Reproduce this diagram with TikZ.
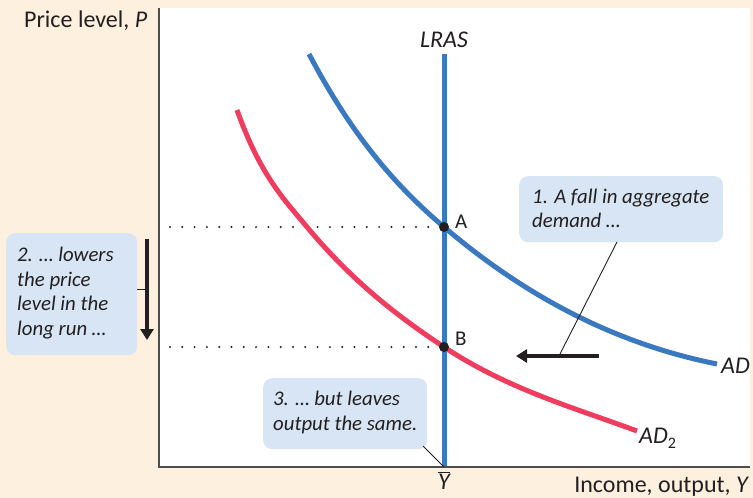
\documentclass[tikz,border=0pt]{standalone}
\usepackage{fontspec}
\setmainfont{Carlito}
\usetikzlibrary{arrows.meta}
\definecolor{cream}{HTML}{FEF0DE}
\definecolor{adblue}{HTML}{3A78C0}
\definecolor{adred}{HTML}{EE3D5E}
\definecolor{boxblue}{HTML}{D7E5F4}
\definecolor{ink}{HTML}{231F20}
\definecolor{axisgray}{HTML}{4D4D4D}
\begin{document}
\begin{tikzpicture}[x=1pt,y=-1pt,
  calloutbox/.style={fill=boxblue, rounded corners=9pt, inner sep=0pt, anchor=north west},
  callouttext/.style={align=left, text=ink, font=\fontsize{20.8}{24.6}\selectfont\itshape, inner sep=0pt, anchor=west},
  curveline/.style={line width=5pt},
  leader/.style={draw=ink, line width=0.9pt},
  bigarrow/.style={draw=ink, line width=4.6pt, -{Triangle[length=11pt,width=13pt]}},
  dotline/.style={draw=ink, line width=2.2pt, line cap=round, dash pattern=on 0pt off 12.3pt},
  axislab/.style={text=ink, font=\fontsize{24}{26}\selectfont, inner sep=0pt},
  ptlab/.style={text=ink, font=\fontsize{21}{24}\selectfont, inner sep=0pt, anchor=base west},
  pointdot/.style={fill=ink}]
\useasboundingbox (0,0) rectangle (753,498);
\fill[cream] (0,0) rectangle (753,498);
\fill[white] (159,8) rectangle (750,467);

% key coordinates
\coordinate (A) at (444,227);
\coordinate (B) at (444,347);
\coordinate (ybar) at (444,467);
\coordinate (lrasTop) at (444,54);
\coordinate (origin) at (159,467);
\coordinate (yTop) at (159,8);
\coordinate (xEnd) at (750,467);
\coordinate (adTop) at (309,54);
\coordinate (adEnd) at (717,364);
\coordinate (adtTop) at (237,110);
\coordinate (adtMid) at (307,227);
\coordinate (adtEnd) at (637,431);

% dotted guides
\coordinate (dA) at (170,227);
\coordinate (dB) at (170,347);
\draw[dotline] (dA) -- ([xshift=-6pt]A);
\draw[dotline] (dB) -- ([xshift=-6pt]B);

% curves
\draw[adred, curveline] (adtTop) .. controls (260.3,175.3) and (283.7,199) .. (adtMid)
  .. controls (352.7,281.8) and (398.3,316.8) .. (B)
  .. controls (508.3,389.4) and (572.7,407.2) .. (adtEnd);
\draw[adblue, curveline] (adTop) .. controls (354,139.5) and (399,188.8) .. (A)
  .. controls (535,304.4) and (626,345.8) .. (adEnd);
\draw[adblue, curveline] (lrasTop) -- (ybar);

% axes
\draw[axisgray, line width=2pt] (yTop) -- (origin) -- (xEnd);

% points
\fill[pointdot] (A) circle (5pt);
\fill[pointdot] (B) circle (5pt);
\node[ptlab] (labA) at (455,228) {A};
\node[ptlab] (labB) at (455,345) {B};

% curve labels
\node[axislab, anchor=base] (lras) at (444,47) {\itshape LRAS};
\node[axislab, anchor=base west] (adlab) at (721,373) {\itshape AD};
\node[axislab, anchor=base west] (ad2lab) at (639,443) {\itshape AD\raisebox{-5pt}{\fontsize{16}{18}\selectfont\upshape 2}};
\node[axislab, anchor=base] (ybarlab) at (444,489) {$\overline{\mbox{\itshape Y}}$};
\node[axislab, anchor=base west] (ylab) at (24,27) {Price level, \itshape P};
\node[axislab, anchor=base east] (xlab) at (748,492) {Income, output, \itshape Y};

% arrows
\coordinate (fallStart) at (599,356);
\coordinate (fallEnd) at (516,356);
\coordinate (fallMid) at (559,356);
\draw[bigarrow] (fallStart) -- (fallEnd);
\coordinate (downStart) at (147,239);
\coordinate (downEnd) at (147,340);
\coordinate (downMid) at (147,289);
\draw[bigarrow] (downStart) -- (downEnd);

% callouts
\node[calloutbox, minimum width=204pt, minimum height=66pt] (c1) at (519,176) {};
\node[callouttext] (c1t) at ([xshift=13pt,yshift=1pt]c1.west) {1. A fall in aggregate\\demand \dots};
\node[calloutbox, minimum width=131pt, minimum height=122pt] (c2) at (6,233) {};
\node[callouttext] (c2t) at ([xshift=11pt,yshift=1pt]c2.west) {2. \dots\ lowers\\the price\\level in the\\long run \dots};
\node[calloutbox, minimum width=164pt, minimum height=71pt] (c3) at (263,378) {};
\node[callouttext] (c3t) at ([xshift=10pt,yshift=1pt]c3.west) {3. \dots\ but leaves\\output the same.};

% leaders
\coordinate (c1foot) at (617,242);
\draw[leader] (c1foot) -- (fallMid);
\coordinate (c2foot) at (137,289);
\draw[leader] (c2foot) -- (downMid);
\coordinate (c3foot) at (423,446);
\draw[leader] (c3foot) -- (ybar);
\end{tikzpicture}
\end{document}
